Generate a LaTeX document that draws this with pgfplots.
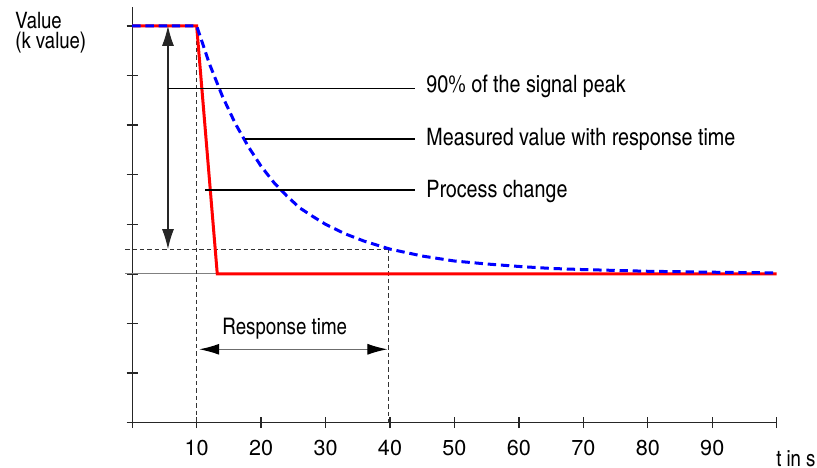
\documentclass[border=0pt]{standalone}
\usepackage{pgfplots}
\pgfplotsset{compat=1.18}
\usepackage{fontspec}
\setmainfont{texgyreheroscn}[Extension=.otf,UprightFont=*-regular,BoldFont=*-bold]
\newfontfamily\tickfont{texgyreheros}[Extension=.otf,UprightFont=*-regular]
\usetikzlibrary{arrows.meta}

\pgfplotstableread{
x y
0 8
10 8
12 7.23
14 6.58
16 6.03
18 5.57
20 5.17
22 4.84
24 4.57
26 4.33
28 4.16
30 4.00
33 3.81
36 3.66
40 3.50
45 3.36
50 3.26
55 3.20
60 3.15
65 3.11
70 3.087
80 3.053
90 3.034
100 3.02
}\measured

\begin{document}
\begin{tikzpicture}
\useasboundingbox (-66.1bp,-22.65bp) rectangle (342.4bp,211.35bp);
\begin{axis}[
  overlay,
  at={(0,0)}, anchor=origin,
  x=3.2225bp, y=24.8bp,
  xmin=0, xmax=100, ymin=0, ymax=8.38,
  axis x line=bottom, axis y line=left,
  axis line style={-, black!85, line width=0.65bp},
  tick style={black!85, line width=0.65bp},
  tick align=center, major tick length=5.5bp,
  xtick={0,10,...,100},
  xticklabels={{},10,20,30,40,50,60,70,80,90,{}},
  ytick={0,1,...,8}, yticklabels={},
  /pgf/number format/assume math mode=true,
  xticklabel style={font=\tickfont\fontsize{10.8bp}{12bp}\selectfont, yshift=-2.5bp},
  clip=false,
]
% reference lines
\draw[gray, line width=0.5bp] (axis cs:-1.1,3) -- (axis cs:13.2,3);
\draw[black!80, line width=0.5bp, dash pattern=on 2.2bp off 1.5bp] (axis cs:-1.1,3.5) -- (axis cs:39.7,3.5);
\draw[black!80, line width=0.5bp, dash pattern=on 2.2bp off 1.5bp] (axis cs:10,8) -- (axis cs:10,0);
\draw[black!80, line width=0.5bp, dash pattern=on 2.2bp off 1.5bp] (axis cs:39.7,3.5) -- (axis cs:39.7,0);

% process change and measured value
\addplot[red, line width=1.5bp] coordinates {(0,8) (10,8) (13.2,3) (100,3)};
\addplot[blue, line width=1.5bp, dash pattern=on 4.2bp off 2.4bp] table {\measured};

% annotations
\draw[black!85, line width=0.55bp, {Latex[length=10bp,width=6bp]}-{Latex[length=10bp,width=6bp]}]
  (axis cs:5.55,8) -- (axis cs:5.55,3.5);
\draw[gray!85!black, line width=0.55bp, {Latex[length=10bp,width=5.5bp,black]}-{Latex[length=10bp,width=5.5bp,black]}]
  (axis cs:10.4,1.48) -- (axis cs:39.6,1.48);
\draw[black, line width=0.7bp] (axis cs:5.55,6.74) -- (axis cs:43.9,6.74);
\draw[black, line width=0.7bp] (axis cs:17.5,5.72) -- (axis cs:43.9,5.72);
\draw[black, line width=0.7bp] (axis cs:11.3,4.69) -- (axis cs:43.9,4.69);

\node[anchor=base west, inner sep=0pt, font=\fontsize{12bp}{14bp}\selectfont] at (axis cs:45.6,6.66) {90\% of the signal peak};
\node[anchor=base west, inner sep=0pt, font=\fontsize{12bp}{14bp}\selectfont] at (axis cs:45.6,5.58) {Measured value with response time};
\node[anchor=base west, inner sep=0pt, font=\fontsize{12bp}{14bp}\selectfont] at (axis cs:45.6,4.55) {Process change};
\node[anchor=base, inner sep=0pt, font=\fontsize{11.4bp}{13bp}\selectfont] at (axis cs:23.66,1.78) {Response time};

\node[anchor=base west, inner sep=0pt, font=\fontsize{11.3bp}{13bp}\selectfont] at (axis cs:-18.18,7.94) {Value};
\node[anchor=base west, inner sep=0pt, font=\fontsize{11.3bp}{13bp}\selectfont] at (axis cs:-18.18,7.54) {(k value)};
\node[anchor=base west, inner sep=0pt, font=\fontsize{11.3bp}{13bp}\selectfont] at (axis cs:99.87,-0.876) {t in s};
\end{axis}
\end{tikzpicture}
\end{document}
